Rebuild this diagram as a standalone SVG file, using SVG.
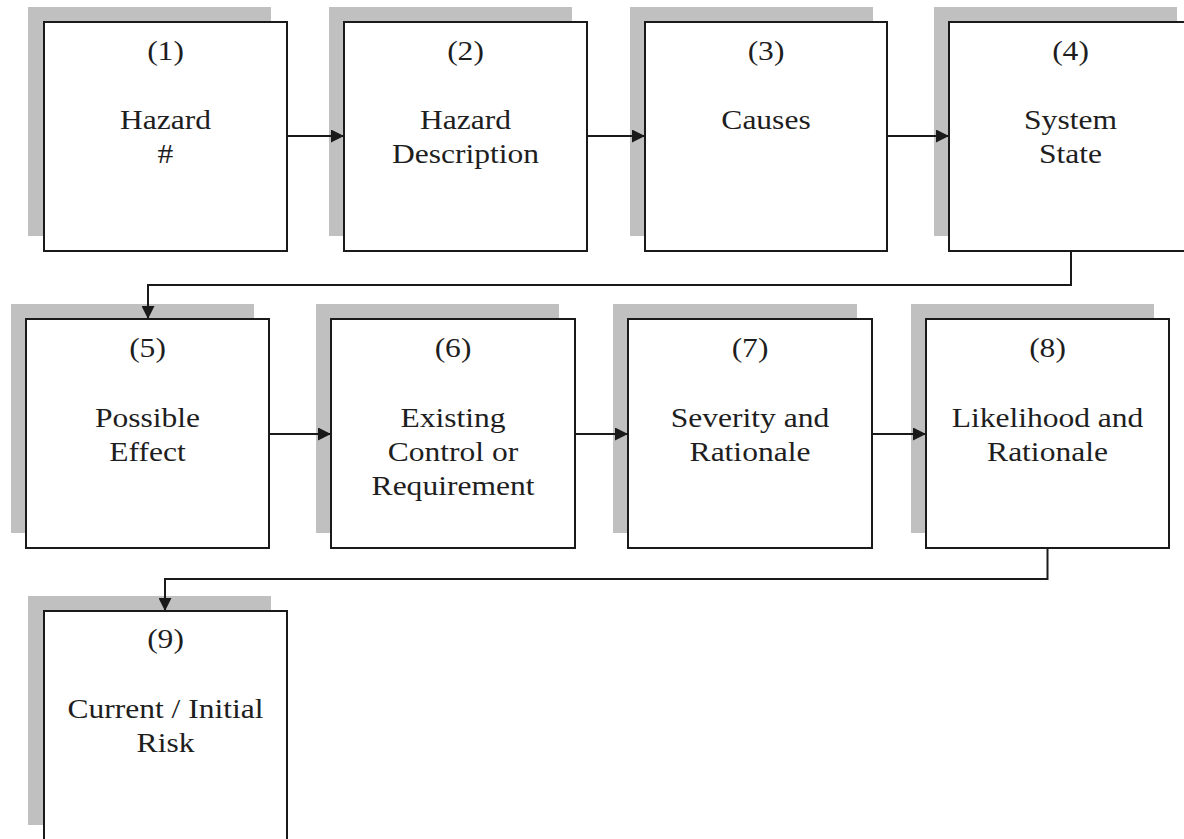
<svg xmlns="http://www.w3.org/2000/svg" width="1184" height="839" viewBox="0 0 1184 839">
  <style>
    .shadow { fill: #c0c0c0; stroke: none; }
    .box { fill: #ffffff; stroke: #1a1a1a; stroke-width: 2; }
    .label { font-family: "Liberation Serif", "Times New Roman", serif; font-size: 26.5px; fill: #1e1e1e; text-anchor: middle; }
    .link { fill: none; stroke: #1a1a1a; stroke-width: 2; }
  </style>
  <defs>
    <marker id="arrow" markerUnits="userSpaceOnUse" markerWidth="14" markerHeight="13" refX="13" refY="6.5" orient="auto">
      <path d="M0,0 L13,6.5 L0,13 z" fill="#1a1a1a"/>
    </marker>
  </defs>
  <rect width="1184" height="839" fill="#ffffff"/>

  <!-- row 1 -->
  <g id="n1">
    <rect class="shadow" x="28" y="7" width="243" height="229"/>
    <rect class="box" x="44" y="22" width="243" height="229"/>
    <g class="label" transform="translate(165.5,0) scale(1.19,1)">
      <text y="60">(1)</text>
      <text y="129">Hazard</text>
      <text y="163">#</text>
    </g>
  </g>
  <g id="n2">
    <rect class="shadow" x="329" y="7" width="243" height="229"/>
    <rect class="box" x="344" y="22" width="243" height="229"/>
    <g class="label" transform="translate(465.5,0) scale(1.19,1)">
      <text y="60">(2)</text>
      <text y="129">Hazard</text>
      <text y="163">Description</text>
    </g>
  </g>
  <g id="n3">
    <rect class="shadow" x="630" y="7" width="243" height="229"/>
    <rect class="box" x="645" y="22" width="242" height="229"/>
    <g class="label" transform="translate(766,0) scale(1.19,1)">
      <text y="60">(3)</text>
      <text y="129">Causes</text>
    </g>
  </g>
  <g id="n4">
    <rect class="shadow" x="934" y="7" width="243" height="229"/>
    <rect class="box" x="949" y="22" width="243" height="229"/>
    <g class="label" transform="translate(1070.5,0) scale(1.19,1)">
      <text y="60">(4)</text>
      <text y="129">System</text>
      <text y="163">State</text>
    </g>
  </g>

  <!-- row 2 -->
  <g id="n5">
    <rect class="shadow" x="11" y="304" width="243" height="229"/>
    <rect class="box" x="26" y="319" width="243" height="229"/>
    <g class="label" transform="translate(147.5,0) scale(1.19,1)">
      <text y="357">(5)</text>
      <text y="427">Possible</text>
      <text y="461">Effect</text>
    </g>
  </g>
  <g id="n6">
    <rect class="shadow" x="316" y="304" width="243" height="229"/>
    <rect class="box" x="331" y="319" width="244" height="229"/>
    <g class="label" transform="translate(453,0) scale(1.19,1)">
      <text y="357">(6)</text>
      <text y="427">Existing</text>
      <text y="461">Control or</text>
      <text y="495">Requirement</text>
    </g>
  </g>
  <g id="n7">
    <rect class="shadow" x="613" y="304" width="244" height="229"/>
    <rect class="box" x="628" y="319" width="244" height="229"/>
    <g class="label" transform="translate(750,0) scale(1.19,1)">
      <text y="357">(7)</text>
      <text y="427">Severity and</text>
      <text y="461">Rationale</text>
    </g>
  </g>
  <g id="n8">
    <rect class="shadow" x="911" y="304" width="243" height="229"/>
    <rect class="box" x="926" y="319" width="243" height="229"/>
    <g class="label" transform="translate(1047.5,0) scale(1.19,1)">
      <text y="357">(8)</text>
      <text y="427">Likelihood and</text>
      <text y="461">Rationale</text>
    </g>
  </g>

  <!-- row 3 -->
  <g id="n9">
    <rect class="shadow" x="28" y="596" width="243" height="229"/>
    <rect class="box" x="44" y="611" width="243" height="229"/>
    <g class="label" transform="translate(165.5,0) scale(1.19,1)">
      <text y="648">(9)</text>
      <text y="718">Current / Initial</text>
      <text y="752">Risk</text>
    </g>
  </g>

  <!-- connectors -->
  <g id="connectors" class="link">
    <path d="M287,136 H344" marker-end="url(#arrow)"/>
    <path d="M587,136 H645" marker-end="url(#arrow)"/>
    <path d="M887,136 H949" marker-end="url(#arrow)"/>
    <path d="M1071,251 V285 H148 V319" marker-end="url(#arrow)"/>
    <path d="M269,434 H331" marker-end="url(#arrow)"/>
    <path d="M575,434 H628" marker-end="url(#arrow)"/>
    <path d="M872,434 H926" marker-end="url(#arrow)"/>
    <path d="M1047.5,548 V579 H165 V611" marker-end="url(#arrow)"/>
  </g>
</svg>
